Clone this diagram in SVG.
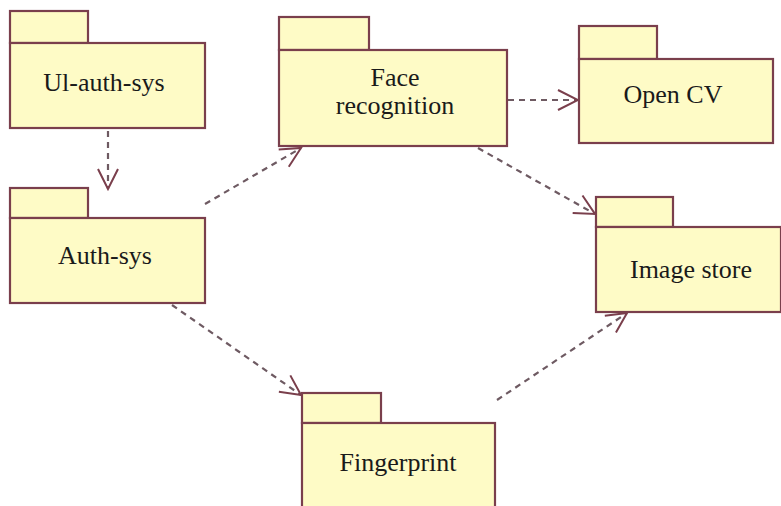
<svg xmlns="http://www.w3.org/2000/svg" width="781" height="506" viewBox="0 0 781 506">
  <style>
    .pkg rect { fill: #fefbc6; stroke: #7a3f4c; stroke-width: 2.2; }
    .lbl { font-family: 'Liberation Serif', 'DejaVu Serif', serif; font-size: 26px; fill: #1a1a1a; text-anchor: middle; }
    .dep { fill: none; stroke: #6e5a62; stroke-width: 2.2; stroke-dasharray: 6 5; marker-end: url(#open); }
  </style>
  <defs>
    <marker id="open" viewBox="0 0 24 24" refX="22" refY="12" markerWidth="24" markerHeight="24" markerUnits="userSpaceOnUse" orient="auto">
      <path d="M2,2 L22,12 L2,22" fill="none" stroke="#7a3f4c" stroke-width="2"/>
    </marker>
  </defs>
  <rect width="781" height="506" fill="#ffffff"/>

  <g id="connectors">
    <line class="dep" x1="108" y1="131" x2="108" y2="189"/>
    <line class="dep" x1="205" y1="204" x2="301" y2="148"/>
    <line class="dep" x1="508" y1="100" x2="578" y2="100"/>
    <line class="dep" x1="478" y1="148" x2="595" y2="214"/>
    <line class="dep" x1="172" y1="305" x2="301" y2="395"/>
    <line class="dep" x1="497" y1="400" x2="627" y2="313"/>
  </g>

  <g id="ui-auth-sys" class="pkg">
    <rect x="10" y="11" width="78" height="32"/>
    <rect x="10" y="43" width="195" height="85"/>
    <text class="lbl" x="104" y="91">Ul-auth-sys</text>
  </g>

  <g id="auth-sys" class="pkg">
    <rect x="10" y="188" width="78" height="30"/>
    <rect x="10" y="218" width="195" height="85"/>
    <text class="lbl" x="105" y="264">Auth-sys</text>
  </g>

  <g id="face-recognition" class="pkg">
    <rect x="279" y="17" width="90" height="33"/>
    <rect x="279" y="50" width="228" height="96"/>
    <text class="lbl" x="395" y="86">Face</text>
    <text class="lbl" x="395" y="114">recognition</text>
  </g>

  <g id="open-cv" class="pkg">
    <rect x="579" y="26" width="78" height="33"/>
    <rect x="579" y="59" width="194" height="84"/>
    <text class="lbl" x="673" y="103">Open CV</text>
  </g>

  <g id="image-store" class="pkg">
    <rect x="596" y="197" width="77" height="30"/>
    <rect x="596" y="227" width="185" height="85"/>
    <text class="lbl" x="691" y="278">Image store</text>
  </g>

  <g id="fingerprint" class="pkg">
    <rect x="302" y="393" width="79" height="30"/>
    <rect x="302" y="423" width="193" height="90"/>
    <text class="lbl" x="398" y="471">Fingerprint</text>
  </g>
</svg>
